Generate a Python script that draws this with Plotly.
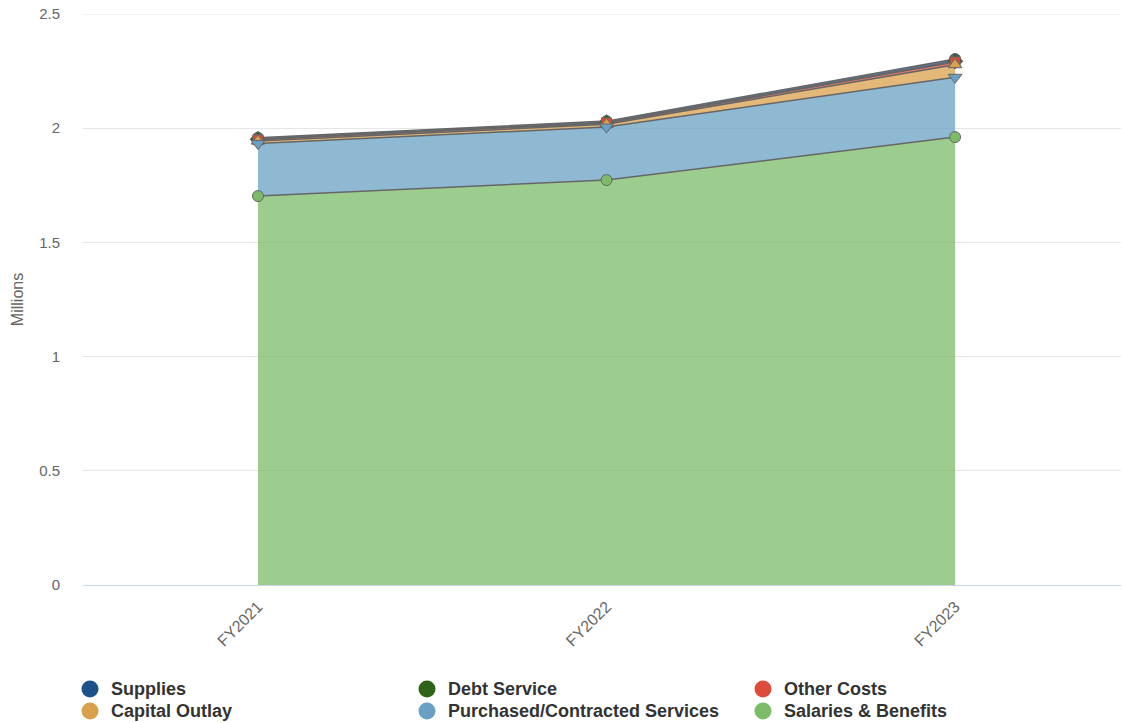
import numpy as np
import plotly.graph_objects as go

years = ["FY2021", "FY2022", "FY2023"]
salaries = [1.703, 1.773, 1.961]
purchased = [0.230, 0.232, 0.262]
capital = [0.011, 0.012, 0.055]
other = [0.006, 0.006, 0.012]
debt = [0.002, 0.002, 0.003]
supplies = [0.006, 0.006, 0.010]

# stacking order bottom -> top
series = [
    ("Salaries & Benefits", salaries, "#7cbc68", "circle", 11),
    ("Purchased/Contracted Services", purchased, "#6aa0c4", "triangle-down", 12),
    ("Capital Outlay", capital, "#d9a04c", "triangle-up", 12),
    ("Other Costs", other, "#dd4b3a", "square", 10),
    ("Debt Service", debt, "#2e6419", "diamond", 12),
    ("Supplies", supplies, "#1a5289", "circle", 11),
]
legend_rows = [["Supplies", "Debt Service", "Other Costs"],
               ["Capital Outlay", "Purchased/Contracted Services", "Salaries & Benefits"]]
y_max = 2.5


def rgba(hexc, a):
    h = hexc.lstrip("#")
    r, g, b = int(h[0:2], 16), int(h[2:4], 16), int(h[4:6], 16)
    return f"rgba({r},{g},{b},{a})"


fig = go.Figure()
# filled stacked areas
for name, vals, col, sym, ms in series:
    fig.add_trace(go.Scatter(
        x=years, y=vals, name=name, stackgroup="one", mode="none",
        fillcolor=rgba(col, 0.75), showlegend=False, hoverinfo="skip",
    ))

# lines + markers drawn top series first, bottom series last (as in reference)
cum = np.cumsum(np.array([s[1] for s in series]), axis=0)
for idx in reversed(range(len(series))):
    name, vals, col, sym, ms = series[idx]
    fig.add_trace(go.Scatter(
        x=years, y=cum[idx], name=name, mode="lines+markers",
        line=dict(color="#666666", width=1.5),
        marker=dict(symbol=sym, size=ms, color=col, line=dict(color="#666666", width=1)),
        showlegend=False,
    ))

# body margin is removed in the page, so figure pixels == screen pixels
W, H = 1122, 723
L, T, R = 83, 14, 1
base_y = 585
B = H - base_y
pw, ph = W - L - R, H - T - B

colors = {s[0]: s[2] for s in series}
col_x = [90, 427, 763]
row_y = [689, 711]
shapes = [dict(type="line", xref="paper", yref="y", x0=0, x1=1, y0=y_max, y1=y_max,
               line=dict(color="#e6e6e6", width=1), layer="below")]
annotations = []
for ri, row in enumerate(legend_rows):
    for ci, name in enumerate(row):
        cx = (col_x[ci] - L) / pw
        cy = (base_y - row_y[ri]) / ph
        shapes.append(dict(
            type="circle", xref="paper", yref="paper",
            xsizemode="pixel", ysizemode="pixel",
            xanchor=cx, yanchor=cy, x0=-8.5, x1=8.5, y0=-8.5, y1=8.5,
            fillcolor=colors[name], line=dict(width=0),
        ))
        annotations.append(dict(
            xref="paper", yref="paper", x=(col_x[ci] + 19 - L) / pw, y=cy,
            xanchor="left", yanchor="middle", showarrow=False,
            text=f"<b>{name}</b>",
            font=dict(size=18, color="#333333", family="Liberation Sans, Arial, sans-serif"),
        ))

fig.update_layout(
    width=W, height=H,
    margin=dict(l=L, r=R, t=T, b=B, autoexpand=False),
    paper_bgcolor="white", plot_bgcolor="white",
    font=dict(family="Liberation Sans, Arial, sans-serif", color="#666666"),
    showlegend=False,
    shapes=shapes, annotations=annotations,
    xaxis=dict(
        range=[-0.502, 2.476], tickangle=-45, showgrid=False, automargin=False,
        showline=True, linecolor="#ccd6eb", linewidth=1,
        tickfont=dict(size=16, color="#666666"), zeroline=False,
        ticks="", ticklabelstandoff=5, ticklabeloverflow="allow",
    ),
    yaxis=dict(
        range=[0, y_max], dtick=0.5, showgrid=True, gridcolor="#e6e6e6",
        zeroline=False, showline=False, automargin=False,
        tickfont=dict(size=15, color="#666666"),
        ticklabelstandoff=22, ticklabeloverflow="allow",
        title=dict(text="Millions", font=dict(size=16, color="#666666"), standoff=11),
    ),
)

fig.write_html("out.html", config={"displayModeBar": False},
               post_script="document.body.style.margin='0';document.body.style.overflow='hidden';")
